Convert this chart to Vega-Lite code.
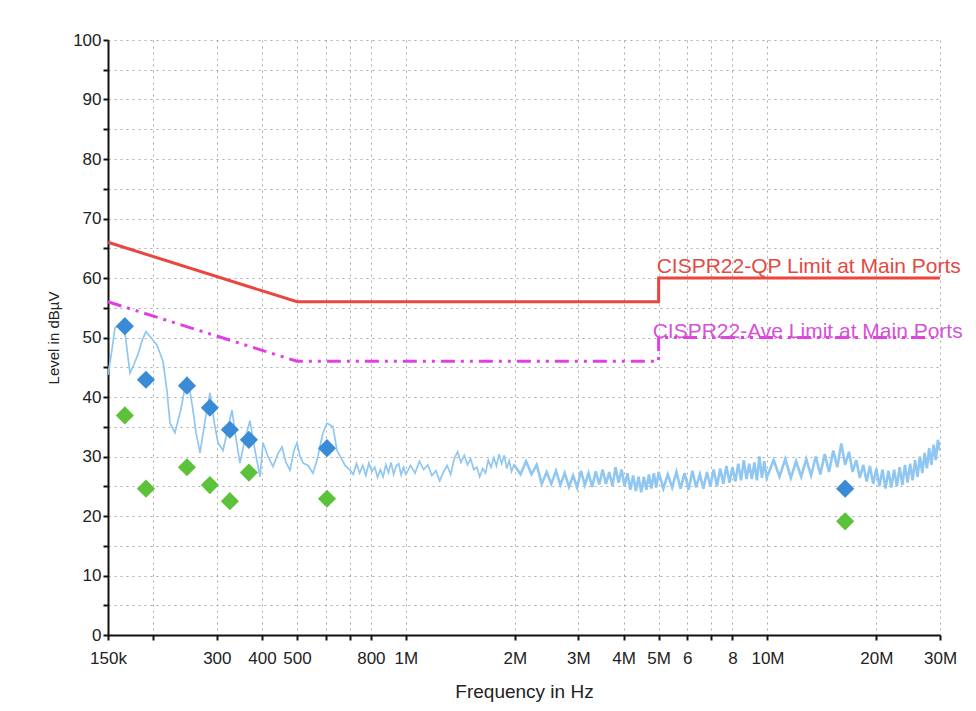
{
  "$schema": "https://vega.github.io/schema/vega-lite/v6.json",
  "width": 832,
  "height": 595,
  "autosize": {"type": "none"},
  "padding": {"left": 108, "top": 40, "right": 36, "bottom": 76},
  "background": "white",
  "config": {
    "view": {"stroke": null},
    "font": "Liberation Sans",
    "axis": {
      "domainColor": "#111111",
      "domainWidth": 2,
      "tickColor": "#111111",
      "tickWidth": 2,
      "tickSize": 5,
      "labelFont": "Liberation Sans",
      "labelFontSize": 17,
      "labelColor": "#222222",
      "labelFlush": false,
      "labelOverlap": false,
      "titleFont": "Liberation Sans",
      "titleFontWeight": "normal",
      "titleColor": "#222222",
      "grid": true,
      "gridColor": "#aaaaaa",
      "gridDash": [2, 4],
      "gridWidth": 1
    }
  },
  "datasets": {
    "trace": [
      {"f": 150000, "v": 43.7}, {"f": 153900, "v": 48}, {"f": 156800, "v": 51.6}, {"f": 161900, "v": 52.3},
      {"f": 167100, "v": 50.8}, {"f": 172500, "v": 44}, {"f": 177000, "v": 45.5}, {"f": 181600, "v": 47.2},
      {"f": 186300, "v": 49.5}, {"f": 191000, "v": 51}, {"f": 197200, "v": 50}, {"f": 204900, "v": 48.7},
      {"f": 212900, "v": 46}, {"f": 218400, "v": 41}, {"f": 222600, "v": 35.6}, {"f": 229800, "v": 34},
      {"f": 238800, "v": 38}, {"f": 248000, "v": 43.4}, {"f": 252800, "v": 41}, {"f": 257700, "v": 37.8},
      {"f": 262700, "v": 34}, {"f": 269500, "v": 30.6}, {"f": 278200, "v": 36}, {"f": 287200, "v": 40.7},
      {"f": 294600, "v": 36}, {"f": 302200, "v": 32.3}, {"f": 312000, "v": 31}, {"f": 320000, "v": 34},
      {"f": 330400, "v": 37.8}, {"f": 338900, "v": 33}, {"f": 347600, "v": 28.9}, {"f": 358900, "v": 33},
      {"f": 370500, "v": 36}, {"f": 382500, "v": 31}, {"f": 395000, "v": 26.6}, {"f": 402600, "v": 32.3},
      {"f": 415600, "v": 30}, {"f": 429000, "v": 28.3}, {"f": 442900, "v": 30.5}, {"f": 454300, "v": 31.6},
      {"f": 466000, "v": 29}, {"f": 478000, "v": 27.7}, {"f": 490400, "v": 31}, {"f": 499900, "v": 32.3},
      {"f": 509400, "v": 30}, {"f": 520000, "v": 28.9}, {"f": 536000, "v": 28.5}, {"f": 553400, "v": 27.2},
      {"f": 571300, "v": 30}, {"f": 578000, "v": 31.6}, {"f": 589800, "v": 34}, {"f": 605000, "v": 35.6},
      {"f": 616700, "v": 35.3}, {"f": 628600, "v": 35}, {"f": 644800, "v": 31}, {"f": 667000, "v": 29.4},
      {"f": 678500, "v": 28.5}, {"f": 700500, "v": 27.7},
      {"f": 715000, "v": 27.0}, {"f": 730000, "v": 28.8}, {"f": 745000, "v": 27.2}, {"f": 760000, "v": 28.5},
      {"f": 775000, "v": 26.8}, {"f": 790000, "v": 28.9}, {"f": 805000, "v": 27.5}, {"f": 820000, "v": 28.2},
      {"f": 835000, "v": 26.5}, {"f": 850000, "v": 27.8}, {"f": 865000, "v": 26.6}, {"f": 880000, "v": 28.6},
      {"f": 895000, "v": 27.3}, {"f": 910000, "v": 29.0}, {"f": 925000, "v": 27.0}, {"f": 940000, "v": 28.4},
      {"f": 955000, "v": 28.8}, {"f": 970000, "v": 26.9}, {"f": 985000, "v": 28.2}, {"f": 1000000, "v": 27.0},
      {"f": 1030000, "v": 28.5}, {"f": 1060000, "v": 27.2}, {"f": 1090000, "v": 29.2}, {"f": 1120000, "v": 27.8},
      {"f": 1150000, "v": 28.6}, {"f": 1180000, "v": 26.8}, {"f": 1210000, "v": 27.6}, {"f": 1240000, "v": 25.9},
      {"f": 1270000, "v": 27.4}, {"f": 1300000, "v": 28.5}, {"f": 1330000, "v": 27.0}, {"f": 1360000, "v": 29.6},
      {"f": 1390000, "v": 30.8}, {"f": 1420000, "v": 29.0}, {"f": 1450000, "v": 30.2}, {"f": 1480000, "v": 28.6},
      {"f": 1510000, "v": 29.6}, {"f": 1540000, "v": 27.8}, {"f": 1570000, "v": 28.2}, {"f": 1600000, "v": 26.6},
      {"f": 1630000, "v": 28.0}, {"f": 1660000, "v": 27.2}, {"f": 1690000, "v": 29.4}, {"f": 1720000, "v": 28.2},
      {"f": 1750000, "v": 29.8}, {"f": 1780000, "v": 28.4}, {"f": 1810000, "v": 30.4}, {"f": 1840000, "v": 28.8},
      {"f": 1870000, "v": 30.2}, {"f": 1900000, "v": 28.0}, {"f": 1930000, "v": 29.3}, {"f": 1960000, "v": 27.5},
      {"f": 1990000, "v": 28.6},
      {"f": 2075000, "v": 27.0}, {"f": 2150000, "v": 29.2}, {"f": 2225000, "v": 27.0}, {"f": 2300000, "v": 28.6},
      {"f": 2375000, "v": 25.4}, {"f": 2450000, "v": 27.4}, {"f": 2525000, "v": 25.4}, {"f": 2600000, "v": 27.6},
      {"f": 2675000, "v": 25.2}, {"f": 2750000, "v": 27.2}, {"f": 2825000, "v": 24.9}, {"f": 2900000, "v": 26.8},
      {"f": 2975000, "v": 24.8}, {"f": 3050000, "v": 27.6}, {"f": 3125000, "v": 25.2}, {"f": 3200000, "v": 27.2},
      {"f": 3275000, "v": 24.9}, {"f": 3350000, "v": 27.5}, {"f": 3425000, "v": 25.3}, {"f": 3500000, "v": 27.8},
      {"f": 3575000, "v": 25.4}, {"f": 3650000, "v": 27.4}, {"f": 3725000, "v": 25.0}, {"f": 3800000, "v": 28.2},
      {"f": 3875000, "v": 25.6}, {"f": 3950000, "v": 27.8}, {"f": 4025000, "v": 25.0}, {"f": 4100000, "v": 27.2},
      {"f": 4175000, "v": 24.4}, {"f": 4250000, "v": 26.8}, {"f": 4325000, "v": 24.2}, {"f": 4400000, "v": 26.6},
      {"f": 4475000, "v": 24.0}, {"f": 4550000, "v": 26.6}, {"f": 4625000, "v": 24.4}, {"f": 4700000, "v": 27.0},
      {"f": 4775000, "v": 24.6}, {"f": 4850000, "v": 27.2}, {"f": 4925000, "v": 24.8}, {"f": 5000000, "v": 27.4},
      {"f": 5150000, "v": 24.6}, {"f": 5300000, "v": 27.0}, {"f": 5450000, "v": 24.8}, {"f": 5600000, "v": 27.4},
      {"f": 5750000, "v": 24.6}, {"f": 5900000, "v": 27.2}, {"f": 6050000, "v": 24.4}, {"f": 6200000, "v": 27.6},
      {"f": 6350000, "v": 24.8}, {"f": 6500000, "v": 27.0}, {"f": 6650000, "v": 24.6}, {"f": 6800000, "v": 27.4},
      {"f": 6950000, "v": 25.0}, {"f": 7100000, "v": 27.8}, {"f": 7250000, "v": 25.0}, {"f": 7400000, "v": 28.0},
      {"f": 7550000, "v": 25.4}, {"f": 7700000, "v": 28.4}, {"f": 7850000, "v": 25.6}, {"f": 8000000, "v": 28.2},
      {"f": 8150000, "v": 25.8}, {"f": 8300000, "v": 28.8}, {"f": 8450000, "v": 26.0}, {"f": 8600000, "v": 29.4},
      {"f": 8750000, "v": 26.2}, {"f": 8900000, "v": 28.8}, {"f": 9050000, "v": 26.2}, {"f": 9200000, "v": 29.0},
      {"f": 9350000, "v": 26.0}, {"f": 9500000, "v": 30.0}, {"f": 9650000, "v": 26.4}, {"f": 9800000, "v": 29.2},
      {"f": 9950000, "v": 26.4},
      {"f": 10400000, "v": 29.4}, {"f": 10800000, "v": 26.6}, {"f": 11200000, "v": 29.6}, {"f": 11600000, "v": 26.4},
      {"f": 12000000, "v": 29.2}, {"f": 12400000, "v": 26.6}, {"f": 12800000, "v": 29.6}, {"f": 13200000, "v": 26.8},
      {"f": 13600000, "v": 30.0}, {"f": 14000000, "v": 27.0}, {"f": 14400000, "v": 30.4}, {"f": 14800000, "v": 27.4},
      {"f": 15200000, "v": 31.0}, {"f": 15600000, "v": 28.2}, {"f": 16000000, "v": 32.2}, {"f": 16400000, "v": 28.6},
      {"f": 16800000, "v": 30.8}, {"f": 17200000, "v": 27.4}, {"f": 17600000, "v": 29.4}, {"f": 18000000, "v": 26.4},
      {"f": 18400000, "v": 28.6}, {"f": 18800000, "v": 25.8}, {"f": 19200000, "v": 28.4}, {"f": 19600000, "v": 25.4},
      {"f": 20000000, "v": 28.0}, {"f": 20400000, "v": 25.0}, {"f": 20800000, "v": 27.8}, {"f": 21200000, "v": 24.6},
      {"f": 21600000, "v": 27.6}, {"f": 22000000, "v": 24.8}, {"f": 22400000, "v": 27.8}, {"f": 22800000, "v": 25.0},
      {"f": 23200000, "v": 28.2}, {"f": 23600000, "v": 25.2}, {"f": 24000000, "v": 28.6}, {"f": 24400000, "v": 25.6},
      {"f": 24800000, "v": 28.8}, {"f": 25200000, "v": 26.0}, {"f": 25600000, "v": 29.4}, {"f": 26000000, "v": 26.6},
      {"f": 26400000, "v": 30.0}, {"f": 26800000, "v": 27.2}, {"f": 27200000, "v": 30.6}, {"f": 27600000, "v": 28.0},
      {"f": 28000000, "v": 31.4}, {"f": 28400000, "v": 28.6}, {"f": 28800000, "v": 32.0}, {"f": 29200000, "v": 29.4},
      {"f": 29600000, "v": 32.8}, {"f": 30000000, "v": 31.0}
    ],
    "qp": [
      {"f": 150000, "v": 66, "o": 1}, {"f": 500000, "v": 56, "o": 2}, {"f": 5000000, "v": 56, "o": 3},
      {"f": 5000000, "v": 60, "o": 4}, {"f": 30000000, "v": 60, "o": 5}
    ],
    "av": [
      {"f": 150000, "v": 56, "o": 1}, {"f": 500000, "v": 46, "o": 2}, {"f": 5000000, "v": 46, "o": 3},
      {"f": 5000000, "v": 50, "o": 4}, {"f": 30000000, "v": 50, "o": 5}
    ],
    "qpPts": [
      {"f": 167000, "v": 51.9}, {"f": 191000, "v": 42.9}, {"f": 248000, "v": 41.9}, {"f": 287000, "v": 38.2},
      {"f": 326000, "v": 34.5}, {"f": 368000, "v": 32.8}, {"f": 605000, "v": 31.4}, {"f": 16400000, "v": 24.6}
    ],
    "avPts": [
      {"f": 167000, "v": 36.9}, {"f": 191000, "v": 24.6}, {"f": 248000, "v": 28.2}, {"f": 287000, "v": 25.2},
      {"f": 326000, "v": 22.5}, {"f": 368000, "v": 27.3}, {"f": 605000, "v": 22.9}, {"f": 16400000, "v": 19.1}
    ]
  },
  "encoding": {
    "x": {
      "field": "f",
      "type": "quantitative",
      "scale": {"type": "log", "domain": [150000, 30000000]},
      "axis": {
        "title": "Frequency in Hz",
        "titleFontSize": 19,
        "titlePadding": 16,
        "labelPadding": 10,
        "values": [150000, 200000, 300000, 400000, 500000, 600000, 700000, 800000, 1000000, 2000000, 3000000, 4000000, 5000000, 6000000, 7000000, 8000000, 10000000, 20000000, 30000000],
        "labelExpr": "['150k','','300','400','500','','','800','1M','2M','3M','4M','5M','6','','8','10M','20M','30M'][indexof([150000,200000,300000,400000,500000,600000,700000,800000,1000000,2000000,3000000,4000000,5000000,6000000,7000000,8000000,10000000,20000000,30000000], datum.value)]"
      }
    },
    "y": {
      "field": "v",
      "type": "quantitative",
      "scale": {"domain": [0, 100], "nice": false, "zero": true},
      "axis": {
        "title": "Level in dBµV",
        "titleFontSize": 15,
        "titlePadding": 11,
        "labelPadding": 2,
        "values": [0, 5, 10, 15, 20, 25, 30, 35, 40, 45, 50, 55, 60, 65, 70, 75, 80, 85, 90, 95, 100],
        "labelExpr": "datum.value % 10 == 0 ? datum.label : ''"
      }
    }
  },
  "layer": [
    {
      "data": {"name": "trace"},
      "transform": [{"filter": "datum.f <= 2075000"}],
      "mark": {"type": "line", "color": "#90c7f2", "strokeWidth": 1.7, "clip": true}
    },
    {
      "data": {"name": "trace"},
      "transform": [{"filter": "datum.f >= 1990000"}],
      "mark": {"type": "line", "color": "#90c7f2", "strokeWidth": 2.6, "clip": true}
    },
    {
      "data": {"name": "qp"},
      "mark": {"type": "line", "color": "#e8463e", "strokeWidth": 3},
      "encoding": {"order": {"field": "o", "type": "quantitative"}}
    },
    {
      "data": {"name": "av"},
      "mark": {"type": "line", "color": "#e23fe2", "strokeWidth": 3, "strokeDash": [14, 6, 3, 6, 3, 6]},
      "encoding": {"order": {"field": "o", "type": "quantitative"}}
    },
    {
      "data": {"name": "qpPts"},
      "mark": {"type": "point", "shape": "diamond", "filled": true, "size": 330, "color": "#3a8bd6", "opacity": 1}
    },
    {
      "data": {"name": "avPts"},
      "mark": {"type": "point", "shape": "diamond", "filled": true, "size": 330, "color": "#5cc23a", "opacity": 1}
    },
    {
      "data": {"values": [{"f": 5000000, "v": 60, "label": "CISPR22-QP Limit at Main Ports"}]},
      "mark": {"type": "text", "align": "left", "baseline": "alphabetic", "dx": -2, "dy": -5, "fontSize": 21, "font": "Liberation Sans", "color": "#e24a42"},
      "encoding": {"text": {"field": "label", "type": "nominal"}}
    },
    {
      "data": {"values": [{"f": 5000000, "v": 50, "label": "CISPR22-Ave Limit at Main Ports"}]},
      "mark": {"type": "text", "align": "left", "baseline": "alphabetic", "dx": -6, "dy": 0, "fontSize": 21, "font": "Liberation Sans", "color": "#d653d8"},
      "encoding": {"text": {"field": "label", "type": "nominal"}}
    }
  ]
}
